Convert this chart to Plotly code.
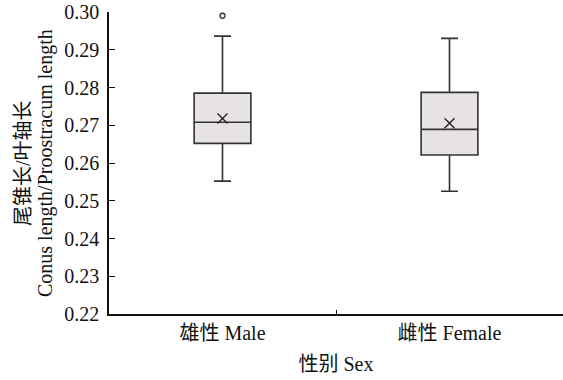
import plotly.graph_objects as go

# Summary statistics per sex group
groups = ["雄性 Male", "雌性 Female"]
q1 = [0.2652, 0.2621]
median = [0.2708, 0.2689]
q3 = [0.2785, 0.2787]
lower_whisker = [0.2552, 0.2525]
upper_whisker = [0.2936, 0.2930]
means = [0.2718, 0.2705]

# Outlying observations
outlier_group = ["雄性 Male"]
outlier_value = [0.2990]

y_ticks = [0.22, 0.23, 0.24, 0.25, 0.26, 0.27, 0.28, 0.29, 0.30]
y_title_lines = ["尾锥长/叶轴长", "Conus length/Proostracum length"]

FONT = "Liberation Serif, 'Times New Roman', 'Noto Sans CJK SC', serif"
INK = "#333333"
TEXT = "#111111"

fig = go.Figure()

fig.add_trace(go.Box(
    x=groups,
    q1=q1,
    median=median,
    q3=q3,
    lowerfence=lower_whisker,
    upperfence=upper_whisker,
    boxpoints=False,
    fillcolor="#e7e3e4",
    line=dict(color=INK, width=1.6),
    whiskerwidth=0.3,
    width=0.25,
    showlegend=False,
    hoverinfo="skip",
))

# Group means drawn as crosses
fig.add_trace(go.Scatter(
    x=groups,
    y=means,
    mode="markers",
    marker=dict(symbol="x-thin-open", size=10, color="#222222",
                line=dict(color="#222222", width=1.4)),
    showlegend=False,
))

fig.add_trace(go.Scatter(
    x=outlier_group,
    y=outlier_value,
    mode="markers",
    marker=dict(symbol="circle-open", size=5, color=INK,
                line=dict(color=INK, width=1.3)),
    showlegend=False,
))

fig.update_layout(
    width=563,
    height=380,
    margin=dict(l=109, r=0, t=12, b=66),
    paper_bgcolor="white",
    plot_bgcolor="white",
    font=dict(family=FONT, size=20, color=TEXT),
)

fig.update_xaxes(
    type="category",
    range=[-0.5, 1.5],
    showline=True,
    linecolor=TEXT,
    linewidth=1.5,
    ticks="inside",
    tickson="boundaries",
    ticklen=4,
    tickcolor=TEXT,
    showgrid=False,
    zeroline=False,
    tickfont=dict(family=FONT, size=20),
    title=dict(text="性别 Sex", font=dict(family=FONT, size=20), standoff=14),
)

fig.update_yaxes(
    range=[0.22, 0.30],
    tickvals=y_ticks,
    ticktext=[f"{v:.2f}" for v in y_ticks],
    showline=True,
    linecolor=TEXT,
    linewidth=1.5,
    ticks="inside",
    ticklen=6,
    tickcolor=TEXT,
    ticklabelstandoff=4,
    showgrid=False,
    zeroline=False,
    tickfont=dict(family=FONT, size=20),
)

# Two-line vertical axis title, each line placed on its own
for line_text, shift in zip(y_title_lines, [-86, -64]):
    fig.add_annotation(
        text=line_text,
        xref="paper", yref="paper",
        x=0, y=0.5,
        xanchor="center", yanchor="middle",
        xshift=shift,
        textangle=-90,
        showarrow=False,
        font=dict(family=FONT, size=20, color=TEXT),
    )

fig.write_html("out.html")
